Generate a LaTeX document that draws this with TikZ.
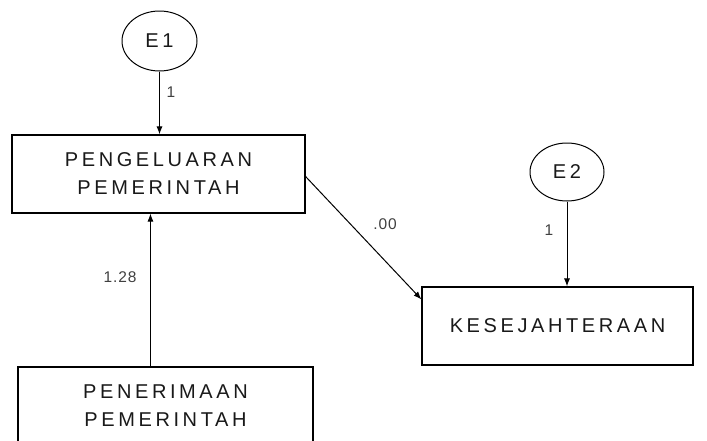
\documentclass[tikz,border=0pt]{standalone}
\usepackage{fontspec}
\setmainfont{Liberation Sans}
\newfontfamily\boxfont[LetterSpace=18]{Liberation Sans}
\newfontfamily\lblfont[LetterSpace=6]{Liberation Sans}
\usetikzlibrary{shapes.geometric,arrows.meta,calc}
\begin{document}
\begin{tikzpicture}[x=1pt,y=-1pt,
  varbox/.style={draw,line width=1.1pt,rectangle,minimum width=#1,minimum height=78pt,inner sep=0pt,align=center,
    font=\boxfont\fontsize{20}{28}\selectfont,text=black!90},
  errnode/.style={draw,line width=1pt,ellipse,inner sep=0pt,font=\boxfont\fontsize{20}{22}\selectfont,text=black!90},
  path/.style={line width=1pt,-{Latex[length=8pt,width=6pt]}},
  lbl/.style={font=\lblfont\fontsize{15.5}{17}\selectfont,text=black!75,inner sep=0pt}]
\useasboundingbox (0,0) rectangle (707,440);
\clip (0,0) rectangle (707,440);
\fill[white] (0,0) rectangle (707,440);
\node[errnode,minimum width=75pt,minimum height=60pt] (E1) at (159.5,41) {E1};
\node[errnode,minimum width=74pt,minimum height=58pt] (E2) at (567,172) {E2};
\node[varbox=293pt] (PG) at (158.5,174) {PENGELUARAN\\PEMERINTAH};
\node[varbox=271pt] (KS) at (557.5,326) {KESEJAHTERAAN};
\node[varbox=295pt] (PN) at (165.5,406) {PENERIMAAN\\PEMERINTAH};
\coordinate (pnout) at ($(PN.north west)+(133,0)$);
\coordinate (ksin) at ($(KS.north west)+(0,13)$);
\draw[path] (E1.south) -- (E1.south |- PG.north);
\draw[path] (E2.south) -- (E2.south |- KS.north);
\draw[path] (pnout) -- (pnout |- PG.south);
\draw[path] ($(PG.north east)+(0,42)$) -- (ksin);
\node[lbl] (l1) at (171,92) {1};
\node[lbl] (l2) at (549,230) {1};
\node[lbl] (l3) at (385,224) {.00};
\node[lbl] (l4) at (120,277) {1.28};
\end{tikzpicture}
\end{document}
